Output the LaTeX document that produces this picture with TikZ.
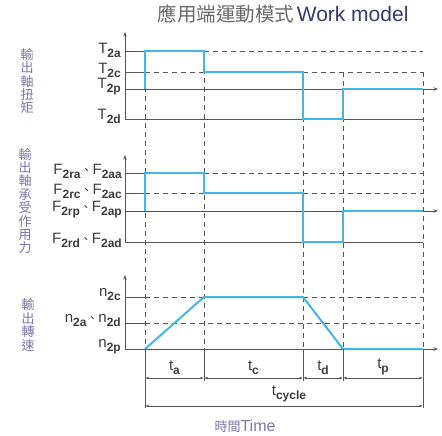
\documentclass[tikz,border=0pt]{standalone}
\usepackage{fontspec}
\setmainfont{Liberation Sans}
\newfontfamily\cjk{Noto Sans CJK TC}
\usepackage{tikz}
\usetikzlibrary{arrows.meta,positioning,calc}
\definecolor{cyanline}{RGB}{66,182,232}
\definecolor{axisgray}{RGB}{85,85,85}
\definecolor{labelgray}{RGB}{60,60,60}
\definecolor{sidepurple}{RGB}{125,118,175}
\definecolor{titlegray}{RGB}{105,105,105}
\definecolor{titlenavy}{RGB}{58,58,110}
\newcommand{\lsub}[2]{#1\raisebox{-0.5ex}{\fontsize{12}{12}\selectfont\bfseries #2}}
\newcommand{\dun}{{\cjk\fontsize{12}{12}\selectfont 、}}

\begin{document}
\begin{tikzpicture}[x=1pt, y=-1pt, >={Stealth[length=4.5pt,width=3.5pt]},
  level/.style={axisgray, line width=0.9pt},
  guide/.style={axisgray, line width=0.8pt, dash pattern=on 5pt off 4pt},
  curve/.style={cyanline, line width=2pt},
  tick/.style={anchor=east, text=labelgray, inner sep=0pt, font=\fontsize{15}{15}\selectfont},
  side/.style={text=sidepurple, align=center, font=\cjk\fontsize{13}{13.4}\selectfont},
  dim/.style={<->, >={Latex[length=3.5pt,width=2.6pt]}, axisgray, line width=0.7pt},
  dimlabel/.style={text=labelgray, inner sep=0pt, font=\fontsize{15}{15}\selectfont}]
\useasboundingbox (0,0) rectangle (442,436);

\node (title) at (283,14)
  {{\cjk\fontsize{19.5}{20}\selectfont\color{titlegray}應用端運動模式} {\fontsize{21}{21}\selectfont\color{titlenavy}Work model}};

% time marks
\coordinate (ta) at (145,0);
\coordinate (tb) at (204,0);
\coordinate (tc) at (303,0);
\coordinate (td) at (343,0);
\coordinate (te) at (423,0);

% output torque
\node[side] (torque) at (27,81) {輸\\出\\軸\\扭\\矩};
\node[tick] (T2a) at (121,50) {\lsub{T}{2a}};
\node[tick] (T2c) at (121,70) {\lsub{T}{2c}};
\node[tick] (T2p) at (121,87) {\lsub{T}{2p}};
\node[tick] (T2d) at (121,116) {\lsub{T}{2d}};
\draw[level,->] (125,119) -- (125,32);
\draw[level,->] (125,89) -- (438,89);
\draw[level] (125,51) -- (ta |- 0,51);
\draw[level] (125,72) -- (ta |- 0,72);
\draw[level] (125,119) -- (te |- 0,119);
\draw[guide] (tb |- 0,51) -- (te |- 0,51);
\draw[guide] (ta |- 0,72) -- (tb |- 0,72);
\draw[guide] (tc |- 0,72) -- (te |- 0,72);

% output bearing load
\node[side] (load) at (25,201) {輸\\出\\軸\\承\\受\\作\\用\\力};
\node[tick] (F2a) at (122,171) {\lsub{F}{2ra}\dun\lsub{F}{2aa}};
\node[tick] (F2c) at (122,191) {\lsub{F}{2rc}\dun\lsub{F}{2ac}};
\node[tick] (F2p) at (122,210) {\lsub{F}{2rp}\dun\lsub{F}{2ap}};
\node[tick] (F2d) at (122,240) {\lsub{F}{2rd}\dun\lsub{F}{2ad}};
\draw[level,->] (125,242) -- (125,155);
\draw[level,->] (125,211) -- (438,211);
\draw[level] (125,173) -- (ta |- 0,173);
\draw[level] (125,193) -- (ta |- 0,193);
\draw[level] (125,242) -- (te |- 0,242);
\draw[guide] (tb |- 0,173) -- (te |- 0,173);
\draw[guide] (ta |- 0,193) -- (tb |- 0,193);
\draw[guide] (tc |- 0,193) -- (te |- 0,193);

% output speed
\node[side] (speed) at (28,325) {輸\\出\\轉\\速};
\node[tick] (n2c) at (121,295) {\lsub{n}{2c}};
\node[tick] (n2d) at (121,321) {\lsub{n}{2a}\dun\lsub{n}{2d}};
\node[tick] (n2p) at (121,347) {\lsub{n}{2p}};
\draw[level,->] (125,349) -- (125,275);
\draw[level,->] (125,349) -- (438,349);
\draw[level] (125,297) -- (ta |- 0,297);
\draw[level] (125,323) -- (ta |- 0,323);
\draw[guide] (ta |- 0,297) -- (tb |- 0,297);
\draw[guide] (tc |- 0,297) -- (te |- 0,297);
\draw[guide] (ta |- 0,323) -- (te |- 0,323);

% guides through all three plots
\draw[guide] (ta |- 0,51) -- (ta |- 0,349);
\draw[guide] (tb |- 0,51) -- (tb |- 0,349);
\foreach \t in {tc,td,te}
  \draw[guide] (\t |- 0,72) -- (\t |- 0,349);

\draw[curve] (ta |- 0,89) -- (ta |- 0,51) -- (tb |- 0,51) -- (tb |- 0,72) -- (tc |- 0,72)
  -- (tc |- 0,119) -- (td |- 0,119) -- (td |- 0,89) -- (te |- 0,89);
\draw[curve] (ta |- 0,211) -- (ta |- 0,173) -- (tb |- 0,173) -- (tb |- 0,193) -- (tc |- 0,193)
  -- (tc |- 0,242) -- (td |- 0,242) -- (td |- 0,211) -- (te |- 0,211);
\draw[curve] (ta |- 0,349) -- (tb |- 0,297) -- (tc |- 0,297) -- (td |- 0,349) -- (te |- 0,349);

% durations
\draw[level, line width=0.7pt] (ta |- 0,349) -- (ta |- 0,408);
\draw[level, line width=0.7pt] (te |- 0,349) -- (te |- 0,408);
\foreach \t in {tb,tc,td}
  \draw[level, line width=0.7pt] (\t |- 0,349) -- (\t |- 0,381);
\draw[dim] (ta |- 0,378) -- node[dimlabel, above=3pt] (lta) {\lsub{t}{a}} (tb |- 0,378);
\draw[dim] (tb |- 0,378) -- node[dimlabel, above=3pt] (ltc) {\lsub{t}{c}} (tc |- 0,378);
\draw[dim] (tc |- 0,378) -- node[dimlabel, above=3pt] (ltd) {\lsub{t}{d}} (td |- 0,378);
\draw[dim] (td |- 0,378) -- node[dimlabel, above=3pt] (ltp) {\lsub{t}{p}} (te |- 0,378);
\draw[dim] (ta |- 0,406) -- node[dimlabel, above=4pt, xshift=5pt] (ltcycle) {\lsub{t}{cycle}} (te |- 0,406);

\node[text=sidepurple] (time) at (245,426)
  {{\cjk\fontsize{13}{13}\selectfont 時間}{\fontsize{16}{16}\selectfont Time}};
\end{tikzpicture}
\end{document}
